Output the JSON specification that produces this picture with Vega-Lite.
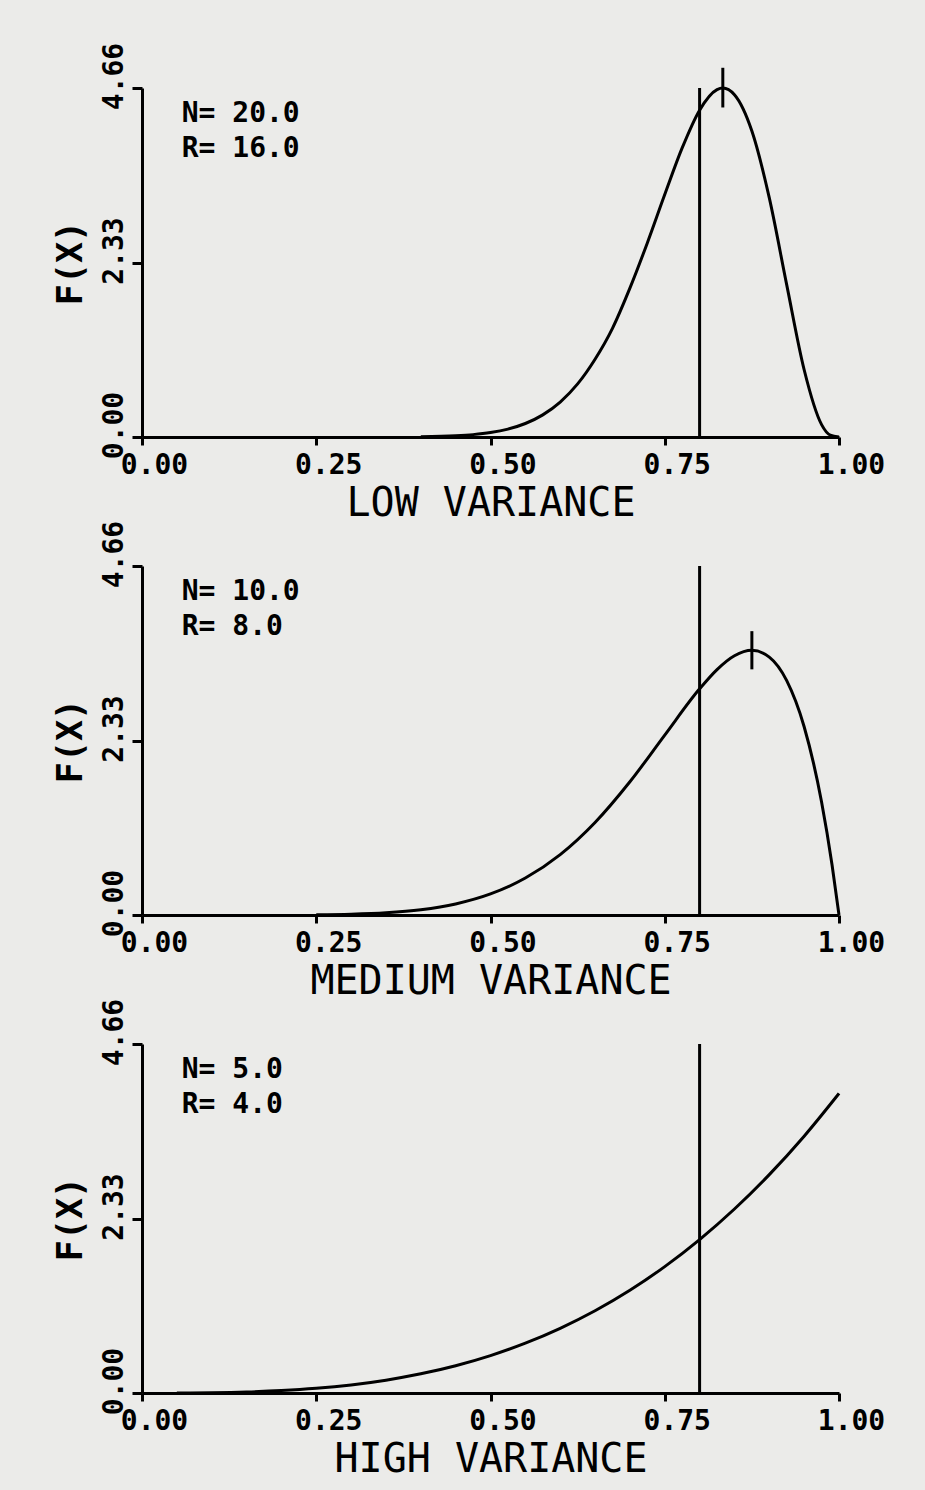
{
  "$schema": "https://vega.github.io/schema/vega-lite/v6.json",
  "background": "#ebebe9",
  "padding": {"left": 53, "top": 42, "right": 43, "bottom": 13},
  "bounds": "flush",
  "spacing": 129,
  "datasets": {
    "curve": [
      {"panel": "LOW", "x": 0.40, "f": 0.0036},
      {"panel": "LOW", "x": 0.45, "f": 0.0162},
      {"panel": "LOW", "x": 0.475, "f": 0.0317},
      {"panel": "LOW", "x": 0.50, "f": 0.0591},
      {"panel": "LOW", "x": 0.525, "f": 0.1054},
      {"panel": "LOW", "x": 0.55, "f": 0.1801},
      {"panel": "LOW", "x": 0.575, "f": 0.2956},
      {"panel": "LOW", "x": 0.60, "f": 0.4665},
      {"panel": "LOW", "x": 0.625, "f": 0.7091},
      {"panel": "LOW", "x": 0.65, "f": 1.0384},
      {"panel": "LOW", "x": 0.675, "f": 1.4512},
      {"panel": "LOW", "x": 0.70, "f": 1.9874},
      {"panel": "LOW", "x": 0.725, "f": 2.5913},
      {"panel": "LOW", "x": 0.75, "f": 3.2372},
      {"panel": "LOW", "x": 0.775, "f": 3.8596},
      {"panel": "LOW", "x": 0.80, "f": 4.3640},
      {"panel": "LOW", "x": 0.825, "f": 4.6381},
      {"panel": "LOW", "x": 0.8333, "f": 4.66},
      {"panel": "LOW", "x": 0.85, "f": 4.5709},
      {"panel": "LOW", "x": 0.875, "f": 4.0860},
      {"panel": "LOW", "x": 0.90, "f": 3.1921},
      {"panel": "LOW", "x": 0.925, "f": 2.0312},
      {"panel": "LOW", "x": 0.95, "f": 0.8979},
      {"panel": "LOW", "x": 0.975, "f": 0.1657},
      {"panel": "LOW", "x": 0.9875, "f": 0.0251},
      {"panel": "LOW", "x": 1.0, "f": 0},
      {"panel": "MEDIUM", "x": 0.25, "f": 0.0033},
      {"panel": "MEDIUM", "x": 0.30, "f": 0.0110},
      {"panel": "MEDIUM", "x": 0.35, "f": 0.0301},
      {"panel": "MEDIUM", "x": 0.40, "f": 0.0708},
      {"panel": "MEDIUM", "x": 0.45, "f": 0.1480},
      {"panel": "MEDIUM", "x": 0.50, "f": 0.2813},
      {"panel": "MEDIUM", "x": 0.55, "f": 0.4933},
      {"panel": "MEDIUM", "x": 0.60, "f": 0.8062},
      {"panel": "MEDIUM", "x": 0.65, "f": 1.2354},
      {"panel": "MEDIUM", "x": 0.70, "f": 1.7789},
      {"panel": "MEDIUM", "x": 0.75, "f": 2.4027},
      {"panel": "MEDIUM", "x": 0.80, "f": 3.0199},
      {"panel": "MEDIUM", "x": 0.825, "f": 3.2775},
      {"panel": "MEDIUM", "x": 0.85, "f": 3.4622},
      {"panel": "MEDIUM", "x": 0.875, "f": 3.5340},
      {"panel": "MEDIUM", "x": 0.90, "f": 3.4437},
      {"panel": "MEDIUM", "x": 0.925, "f": 3.1289},
      {"panel": "MEDIUM", "x": 0.95, "f": 2.5140},
      {"panel": "MEDIUM", "x": 0.975, "f": 1.5077},
      {"panel": "MEDIUM", "x": 0.99, "f": 0.6711},
      {"panel": "MEDIUM", "x": 1.0, "f": 0},
      {"panel": "HIGH", "x": 0.05, "f": 0.0005},
      {"panel": "HIGH", "x": 0.10, "f": 0.0040},
      {"panel": "HIGH", "x": 0.15, "f": 0.0135},
      {"panel": "HIGH", "x": 0.20, "f": 0.0320},
      {"panel": "HIGH", "x": 0.25, "f": 0.0625},
      {"panel": "HIGH", "x": 0.30, "f": 0.1080},
      {"panel": "HIGH", "x": 0.35, "f": 0.1715},
      {"panel": "HIGH", "x": 0.40, "f": 0.2560},
      {"panel": "HIGH", "x": 0.45, "f": 0.3645},
      {"panel": "HIGH", "x": 0.50, "f": 0.5000},
      {"panel": "HIGH", "x": 0.55, "f": 0.6655},
      {"panel": "HIGH", "x": 0.60, "f": 0.8640},
      {"panel": "HIGH", "x": 0.65, "f": 1.0985},
      {"panel": "HIGH", "x": 0.70, "f": 1.3720},
      {"panel": "HIGH", "x": 0.75, "f": 1.6875},
      {"panel": "HIGH", "x": 0.80, "f": 2.0480},
      {"panel": "HIGH", "x": 0.85, "f": 2.4565},
      {"panel": "HIGH", "x": 0.90, "f": 2.9160},
      {"panel": "HIGH", "x": 0.95, "f": 3.4295},
      {"panel": "HIGH", "x": 1.0, "f": 4.0}
    ],
    "rules": [
      {"panel": "LOW", "x": 0.8, "y": 0, "y2": 4.66},
      {"panel": "LOW", "x": 0.8333, "y": 4.40, "y2": 4.93},
      {"panel": "MEDIUM", "x": 0.8, "y": 0, "y2": 4.66},
      {"panel": "MEDIUM", "x": 0.875, "y": 3.28, "y2": 3.79},
      {"panel": "HIGH", "x": 0.8, "y": 0, "y2": 4.66}
    ],
    "notes": [
      {"panel": "LOW", "x": 0.057, "y": 4.206, "label": "N= 20.0"},
      {"panel": "LOW", "x": 0.057, "y": 3.739, "label": "R= 16.0"},
      {"panel": "MEDIUM", "x": 0.057, "y": 4.206, "label": "N= 10.0"},
      {"panel": "MEDIUM", "x": 0.057, "y": 3.739, "label": "R= 8.0"},
      {"panel": "HIGH", "x": 0.057, "y": 4.206, "label": "N= 5.0"},
      {"panel": "HIGH", "x": 0.057, "y": 3.739, "label": "R= 4.0"}
    ]
  },
  "config": {
    "view": {"stroke": null},
    "axis": {
      "grid": false,
      "domainColor": "black",
      "domainWidth": 3,
      "tickColor": "black",
      "tickWidth": 3,
      "labelColor": "black",
      "titleColor": "black",
      "labelFont": "DejaVu Sans Mono",
      "labelFontWeight": "bold",
      "labelFontSize": 28,
      "titleFont": "DejaVu Sans Mono",
      "titleFontWeight": "normal",
      "labelFlush": false,
      "labelOverlap": false
    },
    "axisX": {
      "tickSize": 8,
      "labelOffset": 12,
      "labelPadding": 6,
      "titleFontSize": 40,
      "titlePadding": 4
    },
    "axisY": {
      "tickSize": 10,
      "labelAngle": -90,
      "labelAlign": "center",
      "labelBaseline": "bottom",
      "labelOffset": -12,
      "labelPadding": 4,
      "titleFontSize": 35,
      "titleFontWeight": "bold",
      "titlePadding": 12
    }
  },
  "vconcat": [
    {
      "width": 697,
      "height": 349,
      "layer": [
        {
          "data": {"name": "curve"},
          "transform": [{"filter": "datum.panel === 'LOW'"}],
          "mark": {"type": "line", "color": "black", "strokeWidth": 3, "interpolate": "monotone"},
          "encoding": {
            "x": {"field": "x", "type": "quantitative", "scale": {"domain": [0, 1], "nice": false},
                  "axis": {"values": [0, 0.25, 0.5, 0.75, 1], "format": ".2f", "title": "LOW VARIANCE"}},
            "y": {"field": "f", "type": "quantitative", "scale": {"domain": [0, 4.66], "nice": false},
                  "axis": {"values": [0, 2.33, 4.66], "format": ".2f", "title": "F(X)"}}
          }
        },
        {
          "data": {"name": "rules"},
          "transform": [{"filter": "datum.panel === 'LOW'"}],
          "mark": {"type": "rule", "color": "black", "strokeWidth": 3, "clip": false},
          "encoding": {
            "x": {"field": "x", "type": "quantitative"},
            "y": {"field": "y", "type": "quantitative"},
            "y2": {"field": "y2"}
          }
        },
        {
          "data": {"name": "notes"},
          "transform": [{"filter": "datum.panel === 'LOW'"}],
          "mark": {"type": "text", "align": "left", "baseline": "alphabetic", "font": "DejaVu Sans Mono", "fontWeight": "bold", "fontSize": 28, "color": "black"},
          "encoding": {
            "x": {"field": "x", "type": "quantitative"},
            "y": {"field": "y", "type": "quantitative"},
            "text": {"field": "label"}
          }
        }
      ]
    },
    {
      "width": 697,
      "height": 349,
      "layer": [
        {
          "data": {"name": "curve"},
          "transform": [{"filter": "datum.panel === 'MEDIUM'"}],
          "mark": {"type": "line", "color": "black", "strokeWidth": 3, "interpolate": "monotone"},
          "encoding": {
            "x": {"field": "x", "type": "quantitative", "scale": {"domain": [0, 1], "nice": false},
                  "axis": {"values": [0, 0.25, 0.5, 0.75, 1], "format": ".2f", "title": "MEDIUM VARIANCE"}},
            "y": {"field": "f", "type": "quantitative", "scale": {"domain": [0, 4.66], "nice": false},
                  "axis": {"values": [0, 2.33, 4.66], "format": ".2f", "title": "F(X)"}}
          }
        },
        {
          "data": {"name": "rules"},
          "transform": [{"filter": "datum.panel === 'MEDIUM'"}],
          "mark": {"type": "rule", "color": "black", "strokeWidth": 3, "clip": false},
          "encoding": {
            "x": {"field": "x", "type": "quantitative"},
            "y": {"field": "y", "type": "quantitative"},
            "y2": {"field": "y2"}
          }
        },
        {
          "data": {"name": "notes"},
          "transform": [{"filter": "datum.panel === 'MEDIUM'"}],
          "mark": {"type": "text", "align": "left", "baseline": "alphabetic", "font": "DejaVu Sans Mono", "fontWeight": "bold", "fontSize": 28, "color": "black"},
          "encoding": {
            "x": {"field": "x", "type": "quantitative"},
            "y": {"field": "y", "type": "quantitative"},
            "text": {"field": "label"}
          }
        }
      ]
    },
    {
      "width": 697,
      "height": 349,
      "layer": [
        {
          "data": {"name": "curve"},
          "transform": [{"filter": "datum.panel === 'HIGH'"}],
          "mark": {"type": "line", "color": "black", "strokeWidth": 3, "interpolate": "monotone"},
          "encoding": {
            "x": {"field": "x", "type": "quantitative", "scale": {"domain": [0, 1], "nice": false},
                  "axis": {"values": [0, 0.25, 0.5, 0.75, 1], "format": ".2f", "title": "HIGH VARIANCE"}},
            "y": {"field": "f", "type": "quantitative", "scale": {"domain": [0, 4.66], "nice": false},
                  "axis": {"values": [0, 2.33, 4.66], "format": ".2f", "title": "F(X)"}}
          }
        },
        {
          "data": {"name": "rules"},
          "transform": [{"filter": "datum.panel === 'HIGH'"}],
          "mark": {"type": "rule", "color": "black", "strokeWidth": 3, "clip": false},
          "encoding": {
            "x": {"field": "x", "type": "quantitative"},
            "y": {"field": "y", "type": "quantitative"},
            "y2": {"field": "y2"}
          }
        },
        {
          "data": {"name": "notes"},
          "transform": [{"filter": "datum.panel === 'HIGH'"}],
          "mark": {"type": "text", "align": "left", "baseline": "alphabetic", "font": "DejaVu Sans Mono", "fontWeight": "bold", "fontSize": 28, "color": "black"},
          "encoding": {
            "x": {"field": "x", "type": "quantitative"},
            "y": {"field": "y", "type": "quantitative"},
            "text": {"field": "label"}
          }
        }
      ]
    }
  ]
}
